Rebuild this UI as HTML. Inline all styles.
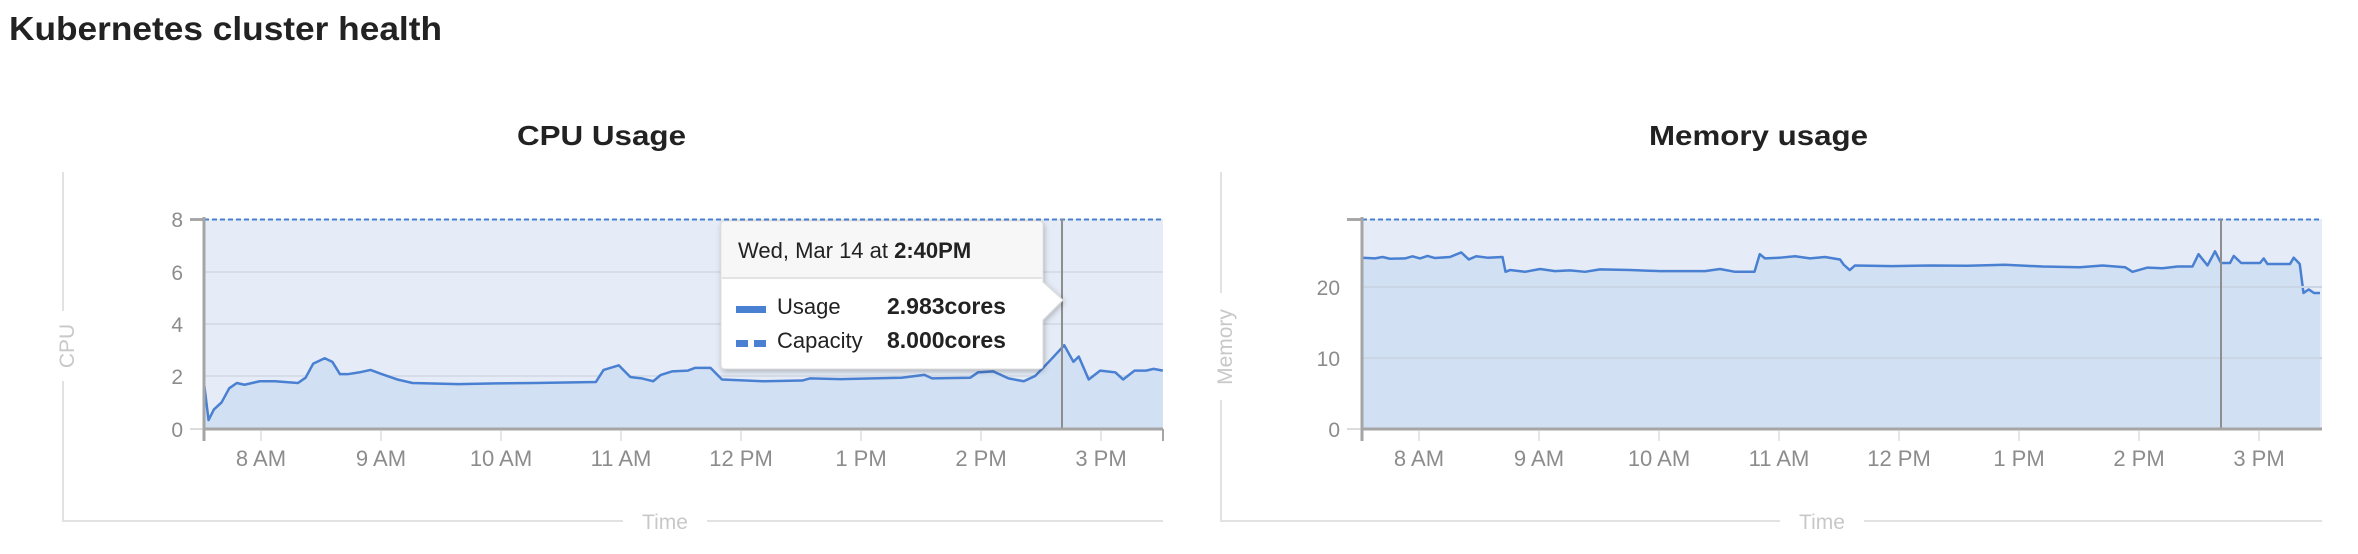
<!DOCTYPE html>
<html><head><meta charset="utf-8"><style>
html,body{margin:0;padding:0;background:#fff;}
svg{display:block;font-family:"Liberation Sans",Arial,sans-serif;}
</style></head><body>
<svg width="2358" height="554" viewBox="0 0 2358 554" xmlns="http://www.w3.org/2000/svg">
<defs>
<filter id="sh" x="-10%" y="-10%" width="130%" height="130%"><feDropShadow dx="1" dy="2" stdDeviation="3" flood-color="#000" flood-opacity="0.25"/></filter>
</defs>
<text x="9" y="40" font-size="33" font-weight="bold" fill="#222" textLength="433" lengthAdjust="spacingAndGlyphs">Kubernetes cluster health</text>

<!-- CPU chart -->
<text x="517" y="145" font-size="28" font-weight="bold" fill="#222" textLength="169" lengthAdjust="spacingAndGlyphs">CPU Usage</text>
<line x1="63" y1="172" x2="63" y2="311" stroke="#e2e2e2" stroke-width="2"/>
<line x1="63" y1="381" x2="63" y2="522" stroke="#e2e2e2" stroke-width="2"/>
<line x1="62" y1="521" x2="623" y2="521" stroke="#e2e2e2" stroke-width="2"/>
<line x1="707" y1="521" x2="1163" y2="521" stroke="#e2e2e2" stroke-width="2"/>
<text x="665" y="529" font-size="21" fill="#c8c8c8" text-anchor="middle">Time</text>
<text transform="translate(74,346) rotate(-90)" font-size="21" fill="#c8c8c8" text-anchor="middle">CPU</text>
<rect x="204" y="219" width="959" height="210" fill="#e5ecf7"/>
<g stroke="#d6dde8" stroke-width="2"><line x1="204" y1="272" x2="1163" y2="272"/><line x1="204" y1="324" x2="1163" y2="324"/><line x1="204" y1="376" x2="1163" y2="376"/></g>
<g transform="scale(0.764,0.353)">
<path d="M267,1085 L273,1190 280,1160 290,1140 300,1100 310,1085 320,1090 340,1080 360,1080 390,1085 400,1070 410,1030 425,1015 435,1025 445,1060 455,1060 470,1055 485,1048 500,1060 520,1075 540,1085 600,1088 650,1086 700,1085 780,1082 790,1048 810,1035 825,1068 840,1072 855,1080 865,1062 880,1052 900,1050 910,1042 930,1042 945,1075 1000,1080 1050,1078 1060,1072 1100,1074 1180,1070 1210,1062 1220,1072 1270,1070 1280,1055 1300,1052 1320,1072 1340,1080 1355,1065 1375,1020 1393,978 1405,1025 1412,1010 1425,1075 1440,1050 1460,1055 1470,1075 1485,1050 1500,1050 1510,1045 1522,1050 L1522,1215 L267,1215 Z" fill="#d1e0f3"/>
<path d="M267,1085 L273,1190 280,1160 290,1140 300,1100 310,1085 320,1090 340,1080 360,1080 390,1085 400,1070 410,1030 425,1015 435,1025 445,1060 455,1060 470,1055 485,1048 500,1060 520,1075 540,1085 600,1088 650,1086 700,1085 780,1082 790,1048 810,1035 825,1068 840,1072 855,1080 865,1062 880,1052 900,1050 910,1042 930,1042 945,1075 1000,1080 1050,1078 1060,1072 1100,1074 1180,1070 1210,1062 1220,1072 1270,1070 1280,1055 1300,1052 1320,1072 1340,1080 1355,1065 1375,1020 1393,978 1405,1025 1412,1010 1425,1075 1440,1050 1460,1055 1470,1075 1485,1050 1500,1050 1510,1045 1522,1050" fill="none" stroke="#4a80d2" stroke-width="2.5" vector-effect="non-scaling-stroke" stroke-linejoin="round"/>
</g>
<line x1="204" y1="219.5" x2="1163" y2="219.5" stroke="#4a80d2" stroke-width="2" stroke-dasharray="5,3"/>
<line x1="1062" y1="219" x2="1062" y2="429" stroke="#8e8e8e" stroke-width="2"/>
<line x1="190" y1="219.5" x2="204" y2="219.5" stroke="#a8a8a8" stroke-width="3"/>
<line x1="190" y1="429" x2="204" y2="429" stroke="#dcdcdc" stroke-width="2"/>
<line x1="204" y1="217" x2="204" y2="441" stroke="#a5a5a5" stroke-width="3"/>
<line x1="1163" y1="429" x2="1163" y2="441" stroke="#a5a5a5" stroke-width="2"/>
<line x1="204" y1="429" x2="1163" y2="429" stroke="#a5a5a5" stroke-width="3"/>
<g stroke="#e6e6e6" stroke-width="2">
<line x1="261" y1="431" x2="261" y2="441"/><line x1="381" y1="431" x2="381" y2="441"/><line x1="501" y1="431" x2="501" y2="441"/><line x1="621" y1="431" x2="621" y2="441"/><line x1="741" y1="431" x2="741" y2="441"/><line x1="861" y1="431" x2="861" y2="441"/><line x1="981" y1="431" x2="981" y2="441"/><line x1="1101" y1="431" x2="1101" y2="441"/>
</g>
<g font-size="21" fill="#8c8c8c" text-anchor="end">
<text x="183" y="227">8</text><text x="183" y="280">6</text><text x="183" y="332">4</text><text x="183" y="384">2</text><text x="183" y="437">0</text>
</g>
<g font-size="22" fill="#8c8c8c" text-anchor="middle">
<text x="261" y="466">8 AM</text><text x="381" y="466">9 AM</text><text x="501" y="466">10 AM</text><text x="621" y="466">11 AM</text><text x="741" y="466">12 PM</text><text x="861" y="466">1 PM</text><text x="981" y="466">2 PM</text><text x="1101" y="466">3 PM</text>
</g>
<!-- tooltip -->
<g filter="url(#sh)">
<path d="M725,221 H1039 Q1043,221 1043,225 V282 L1063,300 L1043,320 V365 Q1043,369 1039,369 H725 Q721,369 721,365 V225 Q721,221 725,221 Z" fill="#fff" stroke="#dcdcdc" stroke-width="1"/>
</g>
<path d="M725,222 H1039 Q1042,222 1042,225 V278 H722 V225 Q722,222 725,222 Z" fill="#f7f7f7"/>
<line x1="722" y1="278" x2="1042" y2="278" stroke="#e4e4e4" stroke-width="2"/>
<text x="738" y="258" font-size="22" fill="#222">Wed, Mar 14 at <tspan font-weight="bold">2:40PM</tspan></text>
<rect x="736" y="306" width="30" height="7" fill="#4a80d2"/>
<rect x="736" y="340" width="12" height="7" fill="#4a80d2"/><rect x="754" y="340" width="12" height="7" fill="#4a80d2"/>
<text x="777" y="314" font-size="22" fill="#222">Usage</text>
<text x="777" y="348" font-size="22" fill="#222">Capacity</text>
<text x="887" y="314" font-size="23" font-weight="bold" fill="#222">2.983cores</text>
<text x="887" y="348" font-size="23" font-weight="bold" fill="#222">8.000cores</text>

<!-- Memory chart -->
<text x="1649" y="145" font-size="28" font-weight="bold" fill="#222" textLength="219" lengthAdjust="spacingAndGlyphs">Memory usage</text>
<line x1="1221" y1="172" x2="1221" y2="293" stroke="#e2e2e2" stroke-width="2"/>
<line x1="1221" y1="400" x2="1221" y2="522" stroke="#e2e2e2" stroke-width="2"/>
<line x1="1220" y1="521" x2="1780" y2="521" stroke="#e2e2e2" stroke-width="2"/>
<line x1="1864" y1="521" x2="2322" y2="521" stroke="#e2e2e2" stroke-width="2"/>
<text x="1822" y="529" font-size="21" fill="#c8c8c8" text-anchor="middle">Time</text>
<text transform="translate(1232,347) rotate(-90)" font-size="21" fill="#c8c8c8" text-anchor="middle">Memory</text>
<rect x="1362" y="219" width="960" height="210" fill="#e5ecf7"/>
<g transform="translate(1180,0) scale(0.75,0.353)">
<path d="M243,730 L260,732 270,728 280,733 300,732 310,726 320,732 330,725 340,731 360,728 375,715 385,735 395,726 410,730 430,728 434,770 440,765 460,770 480,762 500,768 520,766 540,770 560,763 600,765 640,768 700,768 720,762 740,770 766,770 773,720 780,732 800,730 820,726 840,732 860,728 880,735 885,750 893,765 900,752 950,754 1000,752 1050,753 1100,750 1150,755 1200,757 1230,752 1260,757 1270,770 1290,758 1310,760 1330,755 1350,755 1358,720 1370,752 1380,712 1388,745 1400,745 1405,725 1415,745 1440,745 1445,732 1450,748 1480,748 1485,730 1493,748 1498,830 1505,820 1512,830 1520,830 L1520,1215 L243,1215 Z" fill="#d1e0f3"/>
<path d="M243,730 L260,732 270,728 280,733 300,732 310,726 320,732 330,725 340,731 360,728 375,715 385,735 395,726 410,730 430,728 434,770 440,765 460,770 480,762 500,768 520,766 540,770 560,763 600,765 640,768 700,768 720,762 740,770 766,770 773,720 780,732 800,730 820,726 840,732 860,728 880,735 885,750 893,765 900,752 950,754 1000,752 1050,753 1100,750 1150,755 1200,757 1230,752 1260,757 1270,770 1290,758 1310,760 1330,755 1350,755 1358,720 1370,752 1380,712 1388,745 1400,745 1405,725 1415,745 1440,745 1445,732 1450,748 1480,748 1485,730 1493,748 1498,830 1505,820 1512,830 1520,830" fill="none" stroke="#4a80d2" stroke-width="2.5" vector-effect="non-scaling-stroke" stroke-linejoin="round"/>
</g>
<g stroke="#cad6e6" stroke-width="2"><line x1="1362" y1="287" x2="2322" y2="287"/><line x1="1362" y1="358" x2="2322" y2="358"/></g>
<line x1="1362" y1="219.5" x2="2322" y2="219.5" stroke="#4a80d2" stroke-width="2" stroke-dasharray="5,3"/>
<line x1="2221" y1="219" x2="2221" y2="429" stroke="#8e8e8e" stroke-width="2"/>
<line x1="1347" y1="219.5" x2="1362" y2="219.5" stroke="#a8a8a8" stroke-width="3"/>
<line x1="1347" y1="429" x2="1362" y2="429" stroke="#dcdcdc" stroke-width="2"/>
<line x1="1362" y1="217" x2="1362" y2="441" stroke="#a5a5a5" stroke-width="3"/>
<line x1="1362" y1="429" x2="2322" y2="429" stroke="#a5a5a5" stroke-width="3"/>
<g stroke="#e6e6e6" stroke-width="2">
<line x1="1419" y1="431" x2="1419" y2="441"/><line x1="1539" y1="431" x2="1539" y2="441"/><line x1="1659" y1="431" x2="1659" y2="441"/><line x1="1779" y1="431" x2="1779" y2="441"/><line x1="1899" y1="431" x2="1899" y2="441"/><line x1="2019" y1="431" x2="2019" y2="441"/><line x1="2139" y1="431" x2="2139" y2="441"/><line x1="2259" y1="431" x2="2259" y2="441"/>
</g>
<g font-size="21" fill="#8c8c8c" text-anchor="end">
<text x="1340" y="295">20</text><text x="1340" y="366">10</text><text x="1340" y="437">0</text>
</g>
<g font-size="22" fill="#8c8c8c" text-anchor="middle">
<text x="1419" y="466">8 AM</text><text x="1539" y="466">9 AM</text><text x="1659" y="466">10 AM</text><text x="1779" y="466">11 AM</text><text x="1899" y="466">12 PM</text><text x="2019" y="466">1 PM</text><text x="2139" y="466">2 PM</text><text x="2259" y="466">3 PM</text>
</g>
</svg>
</body></html>
